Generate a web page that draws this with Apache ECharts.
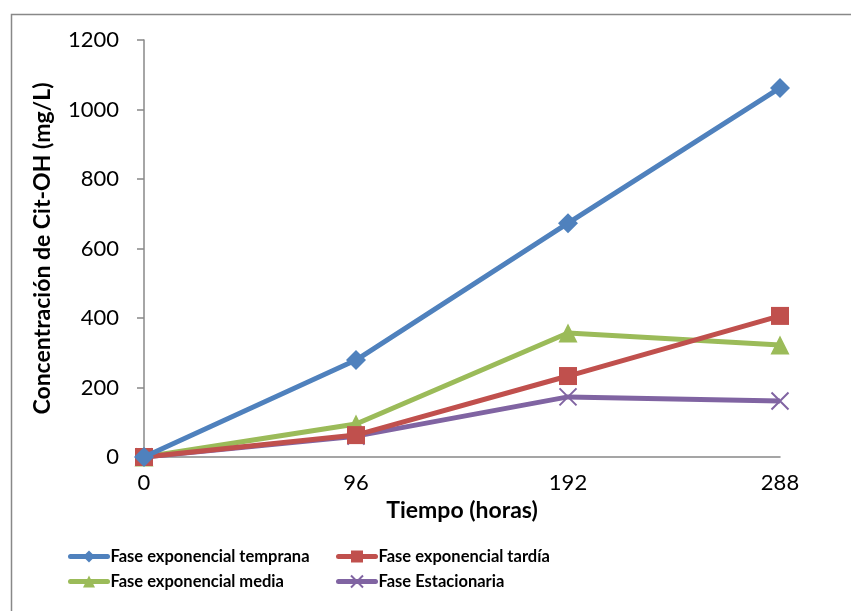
<!DOCTYPE html>
<html><head><meta charset="utf-8">
<script src="https://cdn.jsdelivr.net/npm/echarts@6/dist/echarts.min.js"></script>
<style>html,body{margin:0;padding:0;background:#fff}#c{width:851px;height:611px}</style>
</head><body><div id="c"></div>
<script>
const hours = [0, 96, 192, 288];
const yTicks = [0, 200, 400, 600, 800, 1000, 1200];
const seriesNames = ['Fase exponencial temprana', 'Fase exponencial tardía', 'Fase exponencial media', 'Fase Estacionaria'];
const temprana = [0, 279, 673, 1062];
const tardia = [0, 63, 233, 406];
const media = [0, 95, 357, 322];
const estacionaria = [0, 60, 173, 161];

const FONT = "'Lato', 'Noto Sans', sans-serif";
const colors = ['#4F81BD', '#C0504D', '#9BBB59', '#8064A2'];
const symbols = ['diamond', 'rect', 'triangle', 'path://M0,0L10,10M10,0L0,10'];
const sizes = [20, 18, 19, 17];
const values = [temprana, tardia, media, estacionaria];
const order = [0, 2, 1, 3];

const chart = echarts.init(document.getElementById('c'));
const series = order.map(i => ({
  name: seriesNames[i],
  type: 'line',
  data: hours.map((h, k) => [h, values[i][k]]),
  symbol: symbols[i],
  symbolSize: sizes[i],
  showAllSymbol: true,
  lineStyle: { color: colors[i], width: 5 },
  itemStyle: i === 3 ? { color: 'rgba(0,0,0,0)', borderColor: colors[i], borderWidth: 2 } : { color: colors[i], borderWidth: 0 },
  emphasis: { disabled: true },
  z: 10 - i,
  animation: false
}));
const legendPos = [[68, 548], [336, 548], [68, 573], [336, 573]];
const legends = [0, 1, 2, 3].map(i => ({
  left: legendPos[i][0], top: legendPos[i][1],
  data: [seriesNames[i]],
  itemWidth: 37, itemHeight: 15, itemGap: 0,
  padding: 0,
  lineStyle: { width: 5, cap: 'round' },
  textStyle: { fontFamily: FONT, fontWeight: 'bold', fontSize: 16.5, color: '#000', padding: [0, 0, 0, -2] },
  selectedMode: false
}));
chart.setOption({
  animation: false,
  graphic: [{ type: 'rect', left: 9, top: 12, shape: { width: 1000, height: 1000 }, style: { fill: 'none', stroke: '#888', lineWidth: 1.5 }, silent: true }],
  grid: { left: 144, right: 71, top: 40, bottom: 154 },
  legend: legends,
  xAxis: {
    type: 'value', min: 0, max: 288, interval: 96,
    name: 'Tiempo (horas)', nameLocation: 'middle', nameGap: 42,
    nameTextStyle: { fontFamily: FONT, fontWeight: 'bold', fontSize: 23, color: '#000' },
    axisLine: { show: true, lineStyle: { color: '#888', width: 1.5 } },
    axisTick: { show: false },
    splitLine: { show: false },
    axisLabel: { fontFamily: FONT, fontSize: 22, color: '#000', margin: 15, formatter: v => hours.includes(v) ? String(v) : '' }
  },
  yAxis: {
    type: 'value', min: 0, max: 1200, interval: 200,
    name: 'Concentración de Cit-OH (mg/L)', nameLocation: 'middle', nameGap: 90,
    nameTextStyle: { fontFamily: FONT, fontWeight: 'bold', fontSize: 23, color: '#000' },
    axisLine: { show: true, lineStyle: { color: '#888', width: 1.5 } },
    axisTick: { show: true, length: 7, lineStyle: { color: '#888', width: 1.5 } },
    splitLine: { show: false },
    axisLabel: { fontFamily: FONT, fontSize: 22, color: '#000', margin: 25, formatter: v => yTicks.includes(v) ? String(v) : '' }
  },
  series: series
});
</script></body></html>
